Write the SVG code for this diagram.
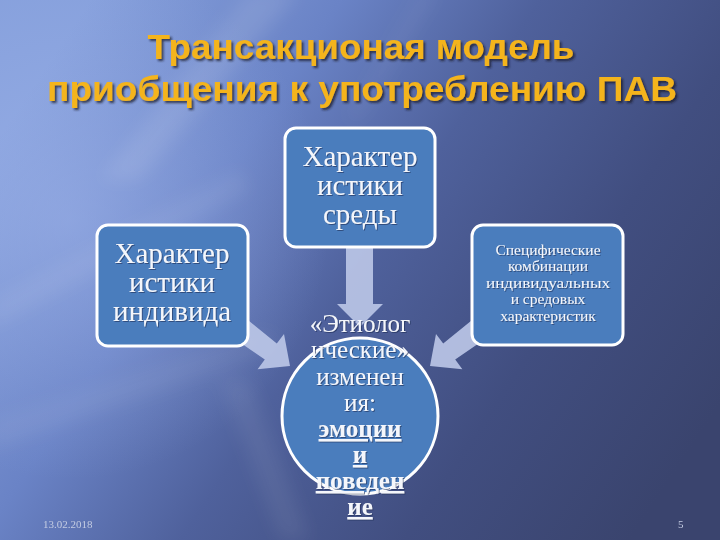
<svg xmlns="http://www.w3.org/2000/svg" width="720" height="540" viewBox="0 0 720 540">
  <defs>
    <linearGradient id="bg" x1="0" y1="0.25" x2="1" y2="0.75">
      <stop offset="0" stop-color="#86a0dc"/>
      <stop offset="0.28" stop-color="#6a83c6"/>
      <stop offset="0.5" stop-color="#4f619c"/>
      <stop offset="0.75" stop-color="#414e80"/>
      <stop offset="1" stop-color="#3a446e"/>
    </linearGradient>
    <radialGradient id="glow" cx="70" cy="220" r="260" gradientUnits="userSpaceOnUse">
      <stop offset="0" stop-color="#a8bcf0" stop-opacity="0.45"/>
      <stop offset="1" stop-color="#a8bcf0" stop-opacity="0"/>
    </radialGradient>
    <filter id="blur" x="-20%" y="-20%" width="140%" height="140%">
      <feGaussianBlur stdDeviation="9"/>
    </filter>
    <filter id="tshadow" x="-5%" y="-20%" width="110%" height="140%">
      <feDropShadow dx="2" dy="2" stdDeviation="0.8" flood-color="#1a1a2a" flood-opacity="0.75"/>
    </filter>
    <filter id="wshadow" x="-5%" y="-20%" width="110%" height="140%">
      <feDropShadow dx="1" dy="1" stdDeviation="0.6" flood-color="#1c2b55" flood-opacity="0.6"/>
    </filter>
    <polygon id="diagArrow" points="223.6,331.2 238,312 276.8,343.6 284,334 290,366 257.6,369.2 264.8,359.6"/>
  </defs>
  <style>
    .title { font-family: "Liberation Sans", Arial, sans-serif; font-weight: bold; font-size: 35px; fill: #f4b41c; text-anchor: middle; }
    .box { fill: #4a7dbd; stroke: #ffffff; stroke-width: 3; }
    .big { font-family: "Liberation Serif", "DejaVu Serif", serif; font-size: 29px; fill: #f4f6fb; text-anchor: middle; }
    .small { font-family: "Liberation Serif", "DejaVu Serif", serif; font-size: 15.5px; fill: #f4f6fb; text-anchor: middle; }
    .circ { font-family: "Liberation Serif", "DejaVu Serif", serif; font-size: 25px; fill: #f4f6fb; text-anchor: middle; }
    .circb { font-weight: bold; text-decoration: underline; }
    .arrow { fill: #bdc8e8; fill-opacity: 0.9; }
    .foot { font-family: "Liberation Serif", "DejaVu Serif", serif; font-size: 11px; fill: #c4cce2; }
  </style>

  <!-- background -->
  <rect x="0" y="0" width="720" height="540" fill="url(#bg)"/>
  <rect x="0" y="0" width="720" height="540" fill="url(#glow)"/>
  <g filter="url(#blur)" fill="#ffffff">
    <polygon points="250,-10 300,-10 140,180 100,180" opacity="0.10"/>
    <polygon points="-10,300 240,170 250,190 -10,330" opacity="0.07"/>
    <polygon points="-10,420 270,330 280,350 -10,450" opacity="0.06"/>
    <polygon points="220,380 250,380 310,540 280,540" opacity="0.07"/>
    <polygon points="420,-10 440,-10 360,120 345,120" opacity="0.05"/>
  </g>

  <!-- title -->
  <g id="title" filter="url(#tshadow)">
    <text class="title" x="361" y="59" textLength="427" lengthAdjust="spacingAndGlyphs">Трансакционая модель</text>
    <text class="title" x="362" y="101" textLength="630" lengthAdjust="spacingAndGlyphs">приобщения к употреблению ПАВ</text>
  </g>

  <!-- connectors -->
  <g id="connectors" class="arrow">
    <polygon id="arrow-env" points="346,240 373,240 373,304 383,304 360,327 337,304 346,304"/>
    <use id="arrow-ind" href="#diagArrow"/>
    <use id="arrow-combo" href="#diagArrow" transform="translate(720,0) scale(-1,1)"/>
  </g>

  <!-- node: environment characteristics -->
  <g id="node-env">
    <rect class="box" x="285" y="128" width="150" height="119" rx="11"/>
    <g filter="url(#wshadow)">
      <text class="big" x="360" y="166">Характер</text>
      <text class="big" x="360" y="195">истики</text>
      <text class="big" x="360" y="224">среды</text>
    </g>
  </g>

  <!-- node: individual characteristics -->
  <g id="node-ind">
    <rect class="box" x="97" y="225" width="151" height="121" rx="11"/>
    <g filter="url(#wshadow)">
      <text class="big" x="172" y="263">Характер</text>
      <text class="big" x="172" y="292">истики</text>
      <text class="big" x="172" y="321">индивида</text>
    </g>
  </g>

  <!-- node: specific combinations -->
  <g id="node-combo">
    <rect class="box" x="472" y="225" width="151" height="120" rx="11"/>
    <g filter="url(#wshadow)">
      <text class="small" x="548" y="255">Специфические</text>
      <text class="small" x="548" y="271">комбинации</text>
      <text class="small" x="548" y="288" textLength="124" lengthAdjust="spacingAndGlyphs">индивидуальных</text>
      <text class="small" x="548" y="304">и средовых</text>
      <text class="small" x="548" y="321">характеристик</text>
    </g>
  </g>

  <!-- node: etiological changes -->
  <g id="node-change">
    <circle class="box" cx="360" cy="416" r="78"/>
    <g filter="url(#wshadow)">
      <text class="circ" x="360" y="332">«Этиолог</text>
      <text class="circ" x="360" y="358">ические»</text>
      <text class="circ" x="360" y="385">изменен</text>
      <text class="circ" x="360" y="411">ия:</text>
      <text class="circ circb" x="360" y="437">эмоции</text>
      <text class="circ circb" x="360" y="463">и</text>
      <text class="circ circb" x="360" y="489">поведен</text>
      <text class="circ circb" x="360" y="515">ие</text>
    </g>
  </g>

  <!-- footer -->
  <text class="foot" x="43" y="528">13.02.2018</text>
  <text class="foot" x="678" y="528">5</text>
</svg>
